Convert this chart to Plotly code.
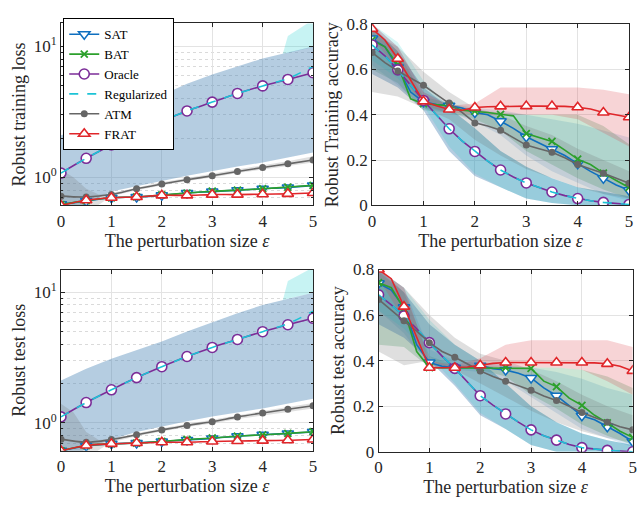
import plotly.graph_objects as go

# ---------------- data ----------------
eps = [0, 0.5, 1, 1.5, 2, 2.5, 3, 3.5, 4, 4.5, 5]
eps_fine = [0, 0.25, 0.5, 0.75, 1, 1.25, 1.5, 1.75, 2, 2.25, 2.5, 2.75, 3,
            3.25, 3.5, 3.75, 4, 4.25, 4.5, 4.75, 5]
methods = ["SAT", "BAT", "Oracle", "Regularized", "ATM", "FRAT"]

# Robust training loss
loss_tr = {
    "SAT":         [0.625, 0.66, 0.70, 0.71, 0.73, 0.76, 0.78, 0.80, 0.82, 0.84, 0.87],
    "BAT":         [0.62, 0.665, 0.70, 0.71, 0.735, 0.76, 0.785, 0.80, 0.82, 0.845, 0.87],
    "Oracle":      [1.08, 1.40, 1.77, 2.2, 2.69, 3.22, 3.76, 4.38, 5.0, 5.6, 6.3],
    "Regularized": [1.08, 1.40, 1.77, 2.2, 2.69, 3.22, 3.76, 4.38, 5.0, 5.7, 7.05],
    "ATM":         [0.72, 0.71, 0.74, 0.82, 0.89, 0.96, 1.03, 1.11, 1.19, 1.27, 1.36],
    "FRAT":        [0.61, 0.67, 0.70, 0.71, 0.73, 0.73, 0.74, 0.74, 0.745, 0.75, 0.76],
}
loss_tr_main_up = [2.1, 2.43, 2.86, 3.5, 4.3, 5.2, 6.1, 7.0, 8.1, 9.0, 10.0]
loss_tr_main_lo = [0.5, 0.63, 0.78, 0.86, 0.94, 1.03, 1.12, 1.21, 1.30, 1.42, 1.55]
reg_band_x = [4.4, 4.5, 5.0]
loss_tr_reg_up = [8.8, 12.0, 16.0]
loss_tr_reg_lo = [8.8, 8.9, 9.9]
atm_band_x = [0, 0.25, 0.5, 0.75, 1, 1.5, 2, 2.5, 3, 3.5, 4, 4.5, 5]
loss_tr_atm_up = [1.15, 1.0, 0.82, 0.74, 0.76, 0.84, 0.92, 0.99, 1.07, 1.15, 1.24, 1.33, 1.45]
loss_tr_atm_lo = [0.5, 0.5, 0.5, 0.62, 0.72, 0.80, 0.87, 0.94, 1.0, 1.08, 1.15, 1.22, 1.30]

# Robust test loss
loss_te = {
    "SAT":         [0.61, 0.665, 0.69, 0.70, 0.72, 0.74, 0.76, 0.79, 0.81, 0.83, 0.85],
    "BAT":         [0.61, 0.67, 0.69, 0.70, 0.72, 0.745, 0.765, 0.79, 0.81, 0.83, 0.855],
    "Oracle":      [1.11, 1.43, 1.79, 2.22, 2.69, 3.22, 3.78, 4.35, 4.99, 5.64, 6.32],
    "Regularized": [1.11, 1.43, 1.79, 2.22, 2.69, 3.22, 3.78, 4.35, 4.99, 5.75, 7.16],
    "ATM":         [0.75, 0.71, 0.745, 0.81, 0.88, 0.955, 1.02, 1.11, 1.19, 1.27, 1.35],
    "FRAT":        [0.61, 0.67, 0.69, 0.70, 0.71, 0.71, 0.72, 0.725, 0.73, 0.735, 0.745],
}
loss_te_main_up = [2.11, 2.6, 3.1, 3.6, 4.2, 5.0, 5.9, 6.9, 8.0, 8.9, 9.9]
loss_te_main_lo = [0.5, 0.63, 0.75, 0.85, 0.94, 1.03, 1.12, 1.20, 1.29, 1.40, 1.53]
loss_te_reg_up = [8.7, 12.2, 15.5]
loss_te_reg_lo = [8.7, 8.9, 9.9]
loss_te_atm_up = [1.4, 1.2, 0.85, 0.74, 0.76, 0.83, 0.91, 0.98, 1.06, 1.14, 1.23, 1.32, 1.42]
loss_te_atm_lo = [0.5, 0.5, 0.5, 0.62, 0.71, 0.79, 0.86, 0.93, 0.99, 1.07, 1.14, 1.21, 1.29]

# Robust training accuracy (quarter steps)
acc_tr = {
    "SAT":    [0.736, 0.70, 0.609, 0.50, 0.457, 0.445, 0.44, 0.43, 0.41, 0.40, 0.371, 0.34, 0.303,
               0.275, 0.248, 0.22, 0.184, 0.15, 0.12, 0.09, 0.067],
    "BAT":    [0.729, 0.70, 0.62, 0.47, 0.449, 0.445, 0.44, 0.42, 0.416, 0.41, 0.402, 0.395, 0.317,
               0.30, 0.282, 0.244, 0.204, 0.18, 0.142, 0.11, 0.079],
    "Oracle": [0.708, 0.66, 0.598, 0.53, 0.463, 0.40, 0.338, 0.285, 0.238, 0.195, 0.156, 0.125, 0.099,
               0.078, 0.059, 0.043, 0.030, 0.02, 0.013, 0.008, 0.004],
    "ATM":    [0.675, 0.63, 0.593, 0.56, 0.53, 0.49, 0.452, 0.41, 0.364, 0.35, 0.331, 0.30, 0.266,
               0.25, 0.234, 0.21, 0.18, 0.16, 0.142, 0.12, 0.098],
    "FRAT":   [0.779, 0.73, 0.647, 0.55, 0.459, 0.44, 0.423, 0.42, 0.432, 0.435, 0.437, 0.438, 0.438,
               0.438, 0.438, 0.437, 0.433, 0.425, 0.41, 0.398, 0.389],
}
acc_tr["Regularized"] = acc_tr["Oracle"]
acc_tr_band = {
    "SAT":    ([0.80, 0.70, 0.50, 0.45, 0.43, 0.42, 0.40, 0.38, 0.36, 0.33, 0.30],
               [0.62, 0.53, 0.43, 0.41, 0.37, 0.31, 0.22, 0.15, 0.10, 0.05, 0.02]),
    "BAT":    ([0.78, 0.68, 0.48, 0.45, 0.42, 0.41, 0.40, 0.40, 0.40, 0.35, 0.27],
               [0.60, 0.54, 0.42, 0.41, 0.38, 0.33, 0.24, 0.18, 0.12, 0.07, 0.03]),
    "Oracle": ([0.79, 0.68, 0.52, 0.43, 0.34, 0.24, 0.17, 0.12, 0.08, 0.06, 0.04],
               [0.58, 0.52, 0.42, 0.24, 0.13, 0.08, 0.03, 0.01, 0.0, 0.0, 0.0]),
    "Regularized": ([0.80, 0.72, 0.55, 0.43, 0.34, 0.24, 0.17, 0.12, 0.08, 0.06, 0.04],
                    [0.64, 0.56, 0.44, 0.26, 0.14, 0.08, 0.03, 0.01, 0.0, 0.0, 0.0]),
    "ATM":    ([0.76, 0.70, 0.59, 0.50, 0.43, 0.40, 0.35, 0.31, 0.25, 0.20, 0.15],
               [0.50, 0.48, 0.43, 0.38, 0.29, 0.22, 0.16, 0.12, 0.08, 0.05, 0.03]),
    "FRAT":   ([0.80, 0.70, 0.50, 0.44, 0.45, 0.52, 0.52, 0.52, 0.52, 0.51, 0.49],
               [0.74, 0.60, 0.44, 0.41, 0.40, 0.40, 0.40, 0.40, 0.38, 0.32, 0.26]),
}

# Robust test accuracy (quarter steps)
acc_te = {
    "SAT":    [0.74, 0.71, 0.634, 0.47, 0.392, 0.375, 0.369, 0.37, 0.378, 0.365, 0.359, 0.345, 0.324,
               0.28, 0.246, 0.20, 0.158, 0.14, 0.11, 0.08, 0.045],
    "BAT":    [0.742, 0.72, 0.627, 0.44, 0.369, 0.369, 0.369, 0.369, 0.369, 0.369, 0.369, 0.369, 0.366,
               0.31, 0.286, 0.235, 0.204, 0.16, 0.127, 0.09, 0.063],
    "Oracle": [0.689, 0.645, 0.596, 0.54, 0.479, 0.42, 0.366, 0.305, 0.246, 0.205, 0.166, 0.13, 0.096,
               0.07, 0.051, 0.032, 0.018, 0.011, 0.006, 0.003, 0.0],
    "ATM":    [0.669, 0.62, 0.575, 0.53, 0.479, 0.44, 0.415, 0.385, 0.355, 0.33, 0.31, 0.29, 0.27,
               0.245, 0.225, 0.20, 0.172, 0.15, 0.13, 0.11, 0.096],
    "FRAT":   [0.80, 0.76, 0.637, 0.50, 0.369, 0.369, 0.369, 0.372, 0.38, 0.388, 0.392, 0.392, 0.392,
               0.392, 0.392, 0.392, 0.392, 0.39, 0.386, 0.375, 0.355],
}
acc_te["Regularized"] = acc_te["Oracle"]
acc_te_band = {
    "SAT":    ([0.80, 0.72, 0.45, 0.40, 0.39, 0.38, 0.37, 0.35, 0.32, 0.28, 0.25],
               [0.62, 0.52, 0.37, 0.36, 0.35, 0.31, 0.24, 0.17, 0.10, 0.06, 0.02]),
    "BAT":    ([0.79, 0.70, 0.42, 0.38, 0.38, 0.37, 0.37, 0.37, 0.36, 0.33, 0.28],
               [0.47, 0.46, 0.37, 0.37, 0.36, 0.33, 0.25, 0.19, 0.12, 0.07, 0.03]),
    "Oracle": ([0.80, 0.70, 0.56, 0.47, 0.40, 0.30, 0.20, 0.13, 0.08, 0.05, 0.03],
               [0.56, 0.50, 0.40, 0.29, 0.16, 0.10, 0.03, 0.0, 0.0, 0.0, 0.0]),
    "Regularized": ([0.80, 0.72, 0.58, 0.47, 0.40, 0.30, 0.20, 0.13, 0.08, 0.05, 0.03],
                    [0.62, 0.54, 0.42, 0.30, 0.17, 0.10, 0.03, 0.0, 0.0, 0.0, 0.0]),
    "ATM":    ([0.80, 0.72, 0.60, 0.50, 0.43, 0.40, 0.36, 0.31, 0.25, 0.20, 0.16],
               [0.44, 0.38, 0.40, 0.36, 0.30, 0.24, 0.18, 0.13, 0.09, 0.06, 0.04]),
    "FRAT":   ([0.80, 0.72, 0.40, 0.38, 0.41, 0.47, 0.49, 0.49, 0.49, 0.49, 0.46],
               [0.76, 0.58, 0.37, 0.37, 0.37, 0.37, 0.37, 0.37, 0.36, 0.31, 0.25]),
}

# ---------------- styles ----------------
colors = {"SAT": "#0f6fbf", "BAT": "#2ca02c", "Oracle": "#7b2d98",
          "Regularized": "#1cc3d6", "ATM": "#666666", "FRAT": "#e0262a"}
band_colors = {"SAT": "rgba(30,120,190,0.16)", "BAT": "rgba(40,150,80,0.24)",
               "Oracle": "rgba(70,130,180,0.40)", "Regularized": "rgba(0,200,200,0.16)",
               "ATM": "rgba(110,110,110,0.22)", "FRAT": "rgba(220,60,70,0.22)"}
markers = {
    "SAT": dict(symbol="triangle-down", size=10, color="white", line=dict(color=colors["SAT"], width=1.5)),
    "BAT": dict(symbol="x-thin", size=7, color=colors["BAT"], line=dict(color=colors["BAT"], width=1.8)),
    "Oracle": dict(symbol="circle", size=10, color="white", line=dict(color=colors["Oracle"], width=1.6)),
    "Regularized": None,
    "ATM": dict(symbol="circle", size=7, color=colors["ATM"], line=dict(color=colors["ATM"], width=0)),
    "FRAT": dict(symbol="triangle-up", size=10, color="white", line=dict(color=colors["FRAT"], width=1.6)),
}
FONT = "Liberation Serif"

fig = go.Figure()


def band(x, up, lo, color, xa, ya):
    fig.add_trace(go.Scatter(x=list(x) + list(x)[::-1], y=list(up) + list(lo)[::-1],
                             fill="toself", fillcolor=color, mode="lines", line=dict(width=0),
                             hoverinfo="skip", showlegend=False, xaxis=xa, yaxis=ya))


def series(x, y, m, xa, ya, legend, shape="spline", mx=None, my=None):
    dash = "dash" if m == "Regularized" else "solid"
    if mx is None:
        mode = "lines" if markers[m] is None else "lines+markers"
        fig.add_trace(go.Scatter(x=x, y=y, name=m, mode=mode, marker=markers[m],
                                 line=dict(color=colors[m], width=1.6, dash=dash, shape=shape),
                                 showlegend=legend, xaxis=xa, yaxis=ya))
    else:
        fig.add_trace(go.Scatter(x=x, y=y, name=m, mode="lines",
                                 line=dict(color=colors[m], width=1.6, dash=dash),
                                 showlegend=False, xaxis=xa, yaxis=ya))
        if markers[m] is not None:
            fig.add_trace(go.Scatter(x=mx, y=my, mode="markers", marker=markers[m],
                                     showlegend=False, xaxis=xa, yaxis=ya))


# loss panels
for (data, mu, ml, ru, rl, au, al, xa, ya, leg) in [
        (loss_tr, loss_tr_main_up, loss_tr_main_lo, loss_tr_reg_up, loss_tr_reg_lo,
         loss_tr_atm_up, loss_tr_atm_lo, "x", "y", True),
        (loss_te, loss_te_main_up, loss_te_main_lo, loss_te_reg_up, loss_te_reg_lo,
         loss_te_atm_up, loss_te_atm_lo, "x3", "y3", False)]:
    band(reg_band_x, ru, rl, "rgba(0,200,200,0.22)", xa, ya)
    band(eps, mu, ml, band_colors["Oracle"], xa, ya)
    band(atm_band_x, au, al, band_colors["ATM"], xa, ya)
    for m in methods:
        series(eps, data[m], m, xa, ya, leg)

# accuracy panels
for (data, bands, xa, ya) in [(acc_tr, acc_tr_band, "x2", "y2"), (acc_te, acc_te_band, "x4", "y4")]:
    for m in ["SAT", "BAT", "Oracle", "Regularized", "ATM", "FRAT"]:
        up, lo = bands[m]
        band(eps, up, lo, band_colors[m], xa, ya)
    for m in methods:
        series(eps_fine, data[m], m, xa, ya, False, mx=eps_fine[::2], my=data[m][::2])

# ---------------- layout ----------------
axcol = "#262626"
common = dict(showline=True, linecolor=axcol, linewidth=1, mirror="ticks", ticks="inside",
              ticklen=4, tickcolor=axcol, showgrid=True, gridcolor="#e3e3e3", gridwidth=1,
              zeroline=False, tickfont=dict(family=FONT, size=17, color=axcol))
xcommon = dict(common, range=[0, 5], tickvals=[0, 1, 2, 3, 4, 5],
               title=dict(text="The perturbation size <i>ε</i>", font=dict(family=FONT, size=18, color=axcol),
                          standoff=0))
minor_vals = [0.6, 0.7, 0.8, 0.9, 2, 3, 4, 5, 6, 7, 8, 9]
logcommon = dict(common, type="log", tickvals=[1, 10], ticktext=["10<sup>0</sup>", "10<sup>1</sup>"],
                 minor=dict(tickmode="array", tickvals=minor_vals, showgrid=True, griddash="dot",
                            gridcolor="#dadada", ticks="inside", ticklen=2, tickcolor=axcol))
acccommon = dict(common, range=[0, 0.8], tickvals=[0, 0.2, 0.4, 0.6, 0.8],
                 ticktext=["0", "0.2", "0.4", "0.6", "0.8"])


def ytitle(t):
    return dict(text=t, font=dict(family=FONT, size=18, color=axcol), standoff=3)


fig.update_layout(
    width=639, height=506, margin=dict(l=0, r=0, t=0, b=0),
    paper_bgcolor="white", plot_bgcolor="white", hovermode=False,
    font=dict(family=FONT, color=axcol),
    xaxis=dict(xcommon, domain=[0.0903, 0.4898], anchor="y"),
    yaxis=dict(logcommon, domain=[0.5968, 0.9704], range=[-0.213, 1.176], anchor="x",
               title=ytitle("Robust training loss")),
    xaxis2=dict(xcommon, domain=[0.5833, 0.9906], anchor="y2"),
    yaxis2=dict(acccommon, domain=[0.5968, 0.9690], anchor="x2",
                title=ytitle("Robust Training accuracy")),
    xaxis3=dict(xcommon, domain=[0.0903, 0.4898], anchor="y3"),
    yaxis3=dict(logcommon, domain=[0.0929, 0.4650], range=[-0.214, 1.174], anchor="x3",
                title=ytitle("Robust test loss")),
    xaxis4=dict(xcommon, domain=[0.5936, 0.9964], anchor="y4"),
    yaxis4=dict(acccommon, domain=[0.0909, 0.4650], anchor="x4",
                title=ytitle("Robust test accuracy")),
    legend=dict(x=0.0939, y=0.981, xanchor="left", yanchor="top", bgcolor="white",
                bordercolor="black", borderwidth=1, font=dict(family=FONT, size=13, color="black"),
                itemwidth=30, tracegroupgap=0),
    showlegend=True,
)

fig.write_html("out.html", config={"displayModeBar": False},
               post_script="document.body.style.margin='0';document.body.style.overflow='hidden';")
